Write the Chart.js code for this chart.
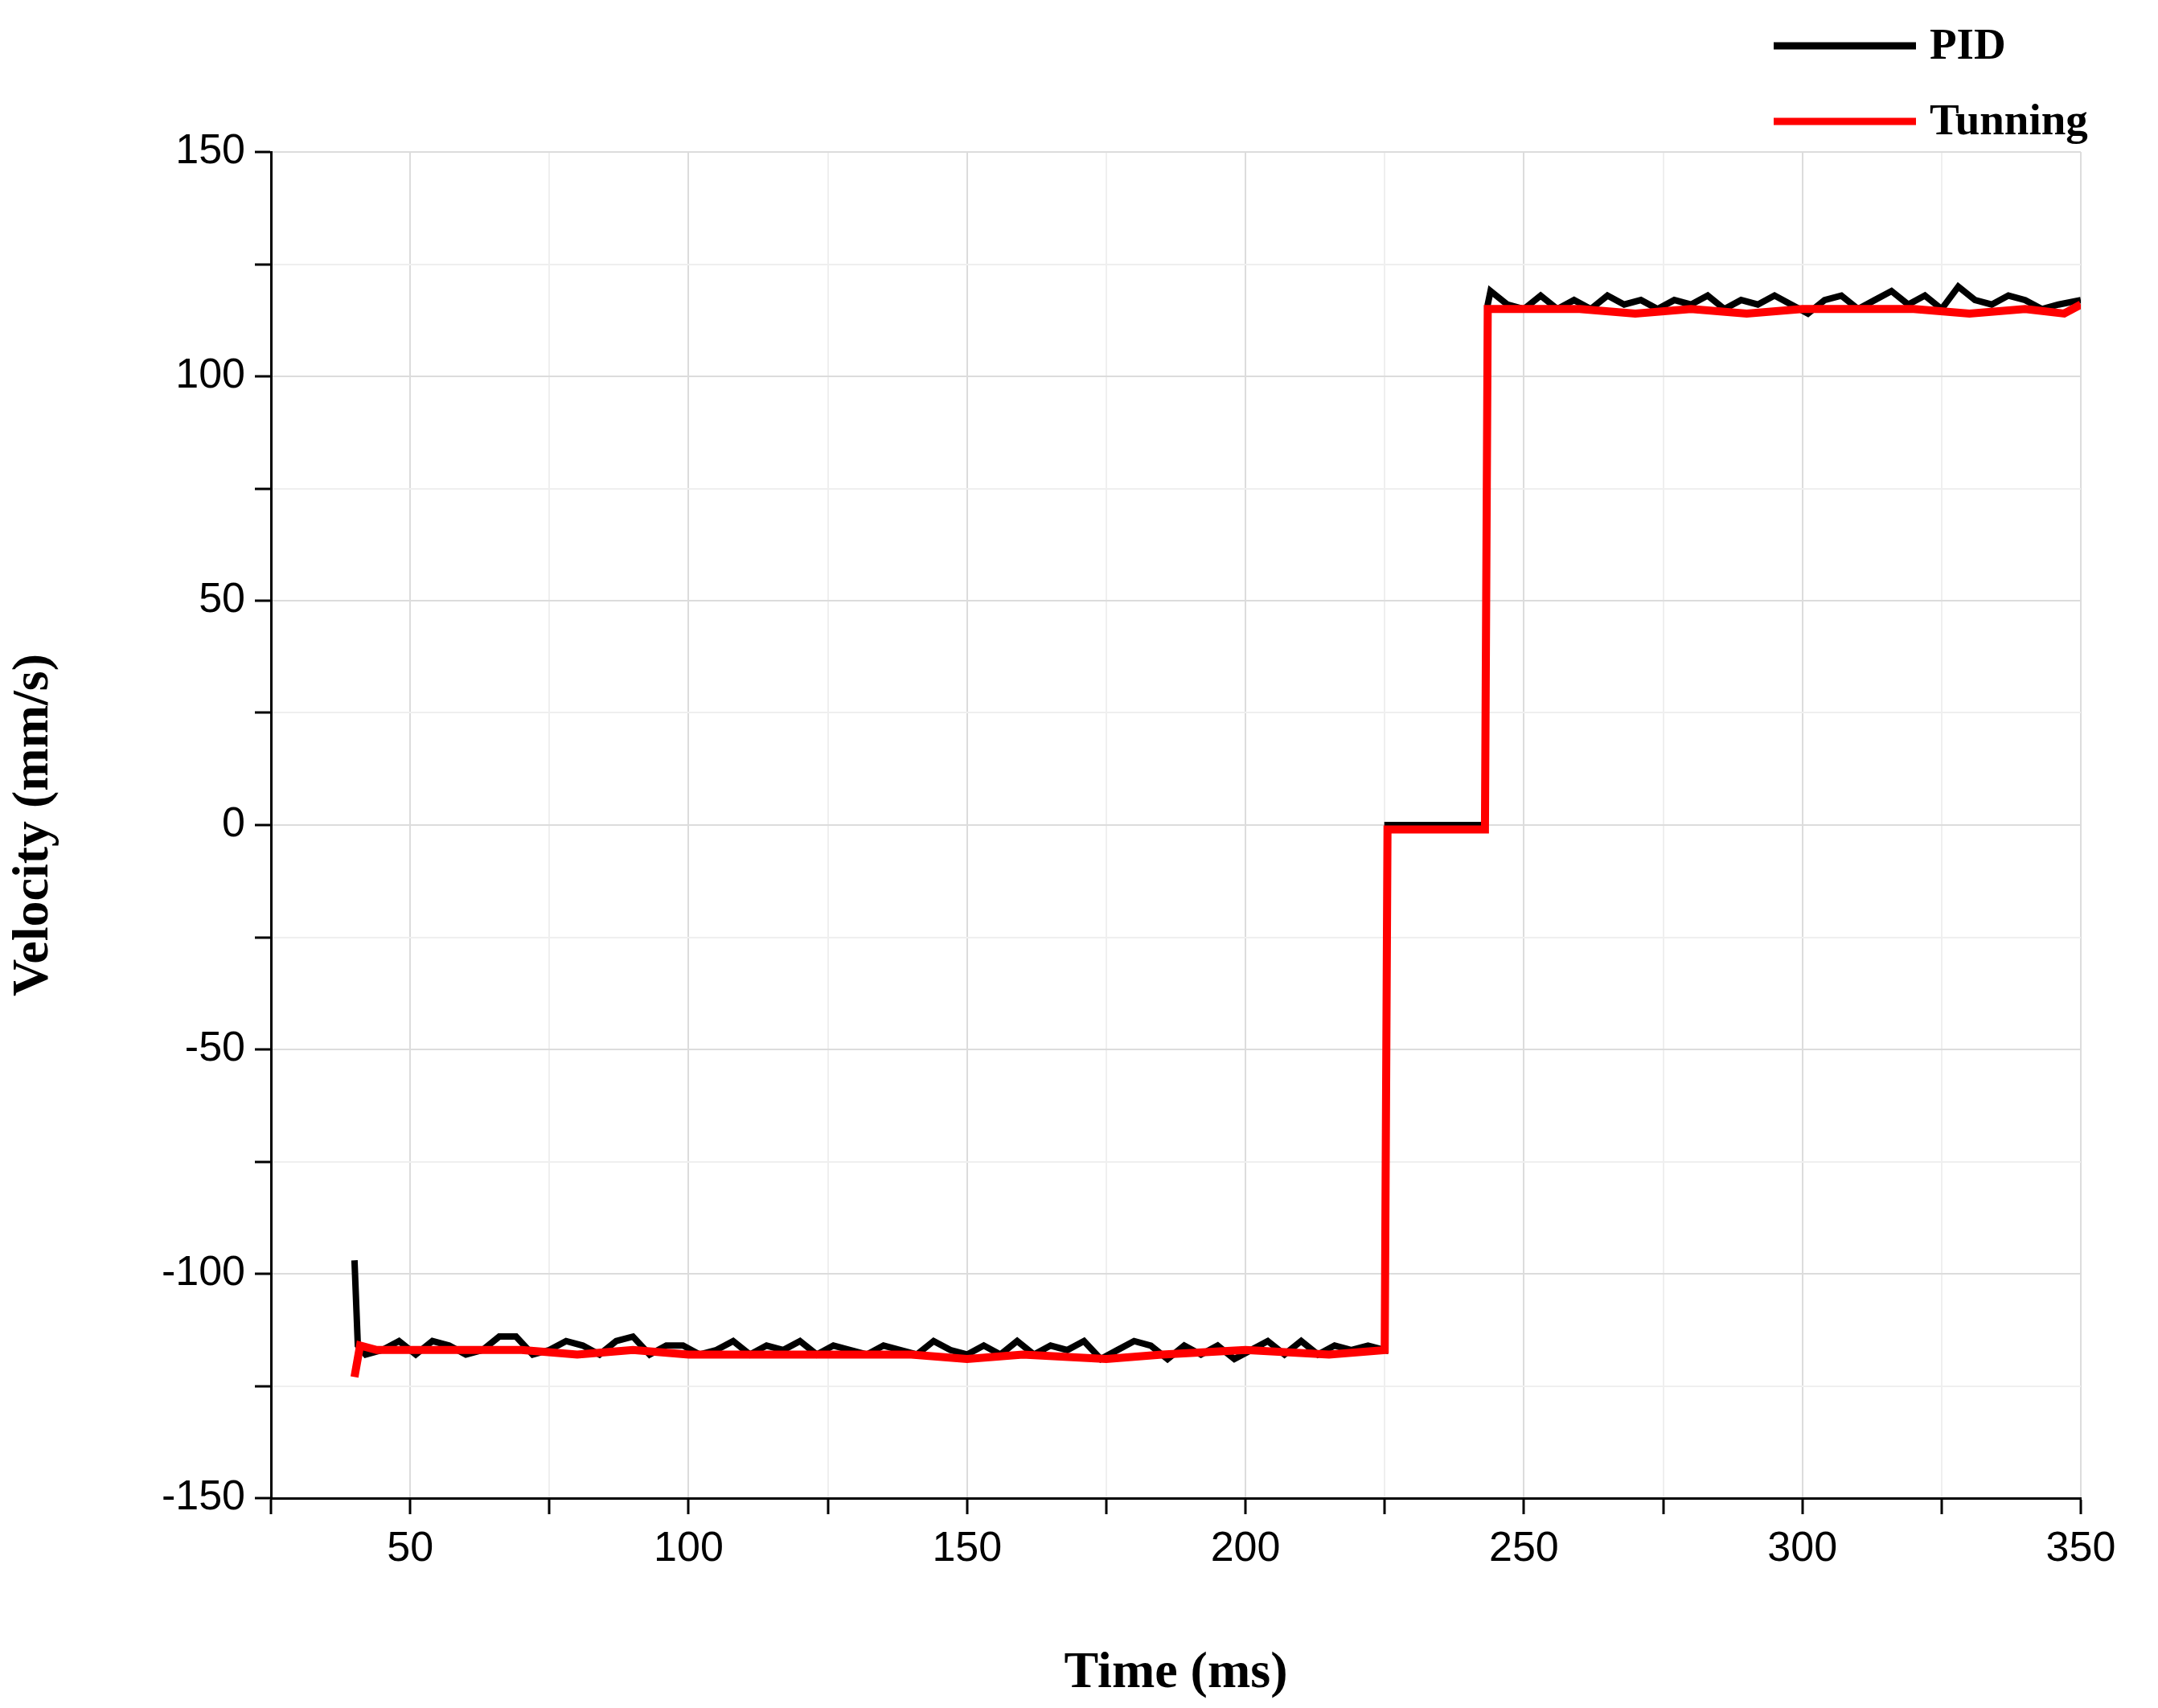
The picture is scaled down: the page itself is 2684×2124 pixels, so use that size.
<!DOCTYPE html>
<html>
<head>
<meta charset="utf-8">
<script src="https://cdn.jsdelivr.net/npm/chart.js@4.4.0/dist/chart.umd.min.js"></script>
<style>
  html, body { margin: 0; padding: 0; background: #fff; }
</style>
</head>
<body>
<canvas id="velChart" width="2684" height="2124"></canvas>
<script>
// data
var pidTime = [40,40.6,42,45,48,51,54,57,60,63,66,69,72,75,78,81,84,87,90,93,96,99,102,105,108,111,114,117,120,123,126,129,132,135,138,141,144,147,150,153,156,159,162,165,168,171,174,177,180,183,186,189,192,195,198,201,204,207,210,213,216,219,222,225,225.5,243,243.5,244,247,250,253,256,259,262,265,268,271,274,277,280,283,286,289,292,295,298,301,304,307,310,313,316,319,322,325,328,331,334,337,340,343,346,350];
var pidVel = [-97,-116,-118,-117,-115,-118,-115,-116,-118,-117,-114,-114,-118,-117,-115,-116,-118,-115,-114,-118,-116,-116,-118,-117,-115,-118,-116,-117,-115,-118,-116,-117,-118,-116,-117,-118,-115,-117,-118,-116,-118,-115,-118,-116,-117,-115,-119,-117,-115,-116,-119,-116,-118,-116,-119,-117,-115,-118,-115,-118,-116,-117,-116,-117,0,0,116,119,116,115,118,115,117,115,118,116,117,115,117,116,118,115,117,116,118,116,114,117,118,115,117,119,116,118,115,120,117,116,118,117,115,116,117];

var tunTime = [40,41,44,50,60,70,80,90,100,120,140,150,160,175,185,200,215,225,225.5,243,243.5,250,260,270,280,290,300,310,320,330,340,347,350];
var tunVel = [-123,-116,-117,-117,-117,-117,-118,-117,-118,-118,-118,-119,-118,-119,-118,-117,-118,-117,-1,-1,115,115,115,114,115,114,115,115,115,114,115,114,116];

var seriesNames = ["PID", "Tunning"];
var seriesColors = ["#000000", "#ff0000"];

function toPoints(xs, ys) {
    return xs.map(function (x, i) { return { x: x, y: ys[i] }; });
}

var serif = "'Liberation Serif', 'DejaVu Serif', serif";
var sans = "'Liberation Sans', Arial, sans-serif";

// legend drawn by hand, stacked at the top right
var cornerLegend = {
    id: 'cornerLegend',
    afterDraw: function (chart) {
        var ctx = chart.ctx;
        ctx.save();
        ctx.font = "bold 55px " + serif;
        ctx.textBaseline = 'middle';
        var ys = [57, 151];
        seriesNames.forEach(function (name, i) {
            ctx.strokeStyle = seriesColors[i];
            ctx.lineWidth = 9;
            ctx.beginPath();
            ctx.moveTo(2206, ys[i]);
            ctx.lineTo(2383, ys[i]);
            ctx.stroke();
            ctx.fillStyle = '#000';
            ctx.fillText(name, 2400, ys[i] + 2);
        });
        ctx.restore();
    }
};

var ctx = document.getElementById("velChart").getContext('2d');
var chart = new Chart(ctx, {
    type: 'line',
    data: {
        datasets: [{
            label: seriesNames[0],
            data: toPoints(pidTime, pidVel),
            borderColor: seriesColors[0],
            borderWidth: 8,
            pointRadius: 0,
            tension: 0,
            order: 2
        }, {
            label: seriesNames[1],
            data: toPoints(tunTime, tunVel),
            borderColor: seriesColors[1],
            borderWidth: 10,
            pointRadius: 0,
            tension: 0,
            order: 1
        }]
    },
    options: {
        responsive: false,
        animation: false,
        devicePixelRatio: 1,
        layout: { padding: { top: 189, right: 96, left: 0, bottom: 0 } },
        plugins: {
            legend: { display: false },
            tooltip: { enabled: false }
        },
        scales: {
            x: {
                type: 'linear',
                min: 25,
                max: 350,
                ticks: {
                    stepSize: 25,
                    autoSkip: false,
                    maxRotation: 0,
                    padding: 12,
                    color: '#000',
                    font: { family: sans, size: 52 },
                    callback: function (v) { return v % 50 === 0 ? v : ''; }
                },
                grid: {
                    color: function (c) { return c.tick && c.tick.value % 50 === 0 ? '#dcdcdc' : '#efefef'; },
                    lineWidth: 2,
                    tickColor: '#000',
                    tickLength: 20,
                    tickWidth: 3
                },
                border: { color: '#000', width: 3 },
                title: {
                    display: true,
                    text: 'Time (ms)',
                    color: '#000',
                    font: { family: serif, size: 64, weight: 'bold' },
                    padding: { top: 30 }
                },
                afterFit: function (s) { s.height = 261; }
            },
            y: {
                min: -150,
                max: 150,
                ticks: {
                    stepSize: 25,
                    autoSkip: false,
                    padding: 12,
                    color: '#000',
                    font: { family: sans, size: 52 },
                    callback: function (v) { return v % 50 === 0 ? v : ''; }
                },
                grid: {
                    color: function (c) { return c.tick && c.tick.value % 50 === 0 ? '#dcdcdc' : '#efefef'; },
                    lineWidth: 2,
                    tickColor: '#000',
                    tickLength: 20,
                    tickWidth: 3
                },
                border: { color: '#000', width: 3 },
                title: {
                    display: true,
                    text: 'Velocity (mm/s)',
                    color: '#000',
                    font: { family: serif, size: 64, weight: 'bold' },
                    padding: { bottom: 20 }
                },
                afterFit: function (s) { s.width = 337; }
            }
        }
    },
    plugins: [cornerLegend]
});
</script>
</body>
</html>
